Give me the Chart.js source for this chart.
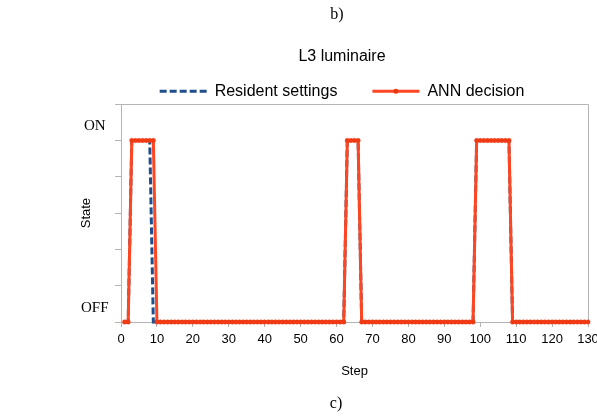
<!DOCTYPE html>
<html><head><meta charset="utf-8">
<script src="https://cdn.jsdelivr.net/npm/chart.js@4/dist/chart.umd.min.js"></script>
<style>
html,body{margin:0;padding:0;background:#fff;}
#wrap{position:relative;width:597px;height:416px;overflow:hidden;}
canvas{position:absolute;left:0;top:0;}
.cap{position:absolute;width:100px;text-align:center;font-family:"Liberation Serif","Times New Roman",serif;font-size:16px;line-height:16px;color:#000;}
</style></head>
<body>
<div id="wrap">
<canvas id="c" width="597" height="416"></canvas>
<div class="cap" style="left:287px;top:6px;">b)</div>
<div class="cap" style="left:286px;top:395px;">c)</div>
</div>
<script>
const chartTitle = 'L3 luminaire';
const seriesNames = ['Resident settings', 'ANN decision'];
const xTitle = 'Step';
const yTitle = 'State';
// state per step (step 1 .. 130): 1 = ON, 0 = OFF
const residentSettings = [
  0,0,1,1,1,1,1,1,0,0,
  0,0,0,0,0,0,0,0,0,0,
  0,0,0,0,0,0,0,0,0,0,
  0,0,0,0,0,0,0,0,0,0,
  0,0,0,0,0,0,0,0,0,0,
  0,0,0,0,0,0,0,0,0,0,
  0,0,1,1,1,1,0,0,0,0,
  0,0,0,0,0,0,0,0,0,0,
  0,0,0,0,0,0,0,0,0,0,
  0,0,0,0,0,0,0,0,1,1,
  1,1,1,1,1,1,1,1,0,0,
  0,0,0,0,0,0,0,0,0,0,
  0,0,0,0,0,0,0,0,0,0
];
const annDecision = [
  0,0,1,1,1,1,1,1,1,0,
  0,0,0,0,0,0,0,0,0,0,
  0,0,0,0,0,0,0,0,0,0,
  0,0,0,0,0,0,0,0,0,0,
  0,0,0,0,0,0,0,0,0,0,
  0,0,0,0,0,0,0,0,0,0,
  0,0,1,1,1,1,0,0,0,0,
  0,0,0,0,0,0,0,0,0,0,
  0,0,0,0,0,0,0,0,0,0,
  0,0,0,0,0,0,0,0,1,1,
  1,1,1,1,1,1,1,1,0,0,
  0,0,0,0,0,0,0,0,0,0,
  0,0,0,0,0,0,0,0,0,0
];
const xTickValues = [0,10,20,30,40,50,60,70,80,90,100,110,120,130];
const yTickValues = [0,0.2,0.4,0.6,0.8,1,1.2];
const yTickLabels = ['OFF','','','','','ON',''];

const steps = annDecision.map((_, i) => i + 1);
const sans = "'Liberation Sans', Arial, sans-serif";
const serif = "'Liberation Serif', 'Times New Roman', serif";
const axisGray = '#B4B4B4';
const redColor = '#FF4622';
const blueColor = '#1F4E8C';

const framePlugin = {
  id: 'frame',
  beforeDatasetsDraw(chart) {
    const {ctx, chartArea: a} = chart;
    ctx.save();
    ctx.strokeStyle = axisGray;
    ctx.lineWidth = 1;
    ctx.beginPath();
    ctx.moveTo(a.left, Math.round(a.top) + 0.5);
    ctx.lineTo(Math.round(a.right) + 0.5, Math.round(a.top) + 0.5);
    ctx.lineTo(Math.round(a.right) + 0.5, a.bottom);
    ctx.stroke();
    ctx.restore();
  }
};
const legendMarkerPlugin = {
  id: 'legendMarker',
  afterDraw(chart) {
    const lg = chart.legend;
    if (!lg || !lg.legendHitBoxes) return;
    const bw = lg.options.labels.pointStyleWidth;
    const fs = lg.options.labels.font.size;
    lg.legendItems.forEach((it, i) => {
      if (it.text !== seriesNames[1]) return;
      const hb = lg.legendHitBoxes[i];
      const ctx = chart.ctx;
      ctx.save();
      ctx.fillStyle = '#E8360F';
      ctx.beginPath();
      ctx.arc(hb.left + bw / 2, hb.top + fs / 2, 2.5, 0, Math.PI * 2);
      ctx.fill();
      ctx.restore();
    });
  }
};

new Chart(document.getElementById('c'), {
  type: 'line',
  data: {
    datasets: [
      {
        label: seriesNames[1],
        data: steps.map((s, i) => ({x: s, y: annDecision[i]})),
        borderColor: redColor,
        backgroundColor: 'rgba(0,0,0,0)',
        borderWidth: 3,
        pointRadius: 2.2,
        pointBackgroundColor: '#F03A14',
        pointBorderColor: '#F03A14',
        pointBorderWidth: 0.5,
        tension: 0,
        clip: false
      },
      {
        label: seriesNames[0],
        data: steps.map((s, i) => ({x: s, y: residentSettings[i]})),
        borderColor: blueColor,
        backgroundColor: 'rgba(0,0,0,0)',
        borderWidth: 3,
        borderDash: [7, 3],
        pointRadius: 0,
        tension: 0,
        clip: false
      }
    ]
  },
  options: {
    responsive: false,
    animation: false,
    devicePixelRatio: 1,
    layout: {padding: {left: 96, right: 9, top: 0, bottom: 0}},
    plugins: {
      title: {
        display: true, text: chartTitle, color: '#000',
        font: {family: sans, size: 16, weight: 'normal'},
        padding: {top: 47, bottom: -18}
      },
      legend: {
        position: 'top', reverse: true, maxHeight: 56,
        labels: {
          color: '#000', font: {family: sans, size: 16},
          usePointStyle: true, pointStyleWidth: 47,
          boxWidth: 47, boxHeight: 16, padding: 35,
          generateLabels(chart) {
            const items = Chart.defaults.plugins.legend.labels.generateLabels(chart);
            items.forEach(it => {
              const ds = chart.data.datasets[it.datasetIndex];
              it.pointStyle = 'line';
              it.fillStyle = 'rgba(0,0,0,0)';
              it.strokeStyle = ds.borderColor;
              it.lineWidth = 3;
              it.lineCap = 'butt';
              it.lineDash = ds.borderDash || [];
              it.lineDashOffset = 0;
            });
            return items;
          }
        }
      },
      tooltip: {enabled: false}
    },
    scales: {
      x: {
        type: 'linear', min: 0, max: 130,
        afterBuildTicks(s) { s.ticks = xTickValues.map(v => ({value: v})); },
        afterFit(s) { s.height = 94; s.paddingRight = 0; s.paddingLeft = 0; },
        grid: {drawOnChartArea: false, drawTicks: true, tickLength: 5, color: axisGray},
        border: {color: axisGray, width: 1},
        ticks: {color: '#000', font: {family: sans, size: 13}, padding: 5, maxRotation: 0, autoSkip: false},
        title: {display: true, text: xTitle, color: '#000', font: {family: sans, size: 13}, padding: {top: 0, bottom: 37}}
      },
      y: {
        type: 'linear', min: 0, max: 1.2,
        afterBuildTicks(s) { s.ticks = yTickValues.map(v => ({value: v})); },
        afterFit(s) { s.width = 25; s.paddingTop = 0; s.paddingBottom = 0; },
        grid: {drawOnChartArea: false, drawTicks: true, tickLength: 6, color: axisGray},
        border: {color: axisGray, width: 1},
        ticks: {
          color: '#000', font: {family: serif, size: 15}, padding: -40, mirror: true,
          crossAlign: 'center', labelOffset: -14, autoSkip: false,
          callback: (v, i) => yTickLabels[i]
        },
        title: {display: true, text: yTitle, color: '#000', font: {family: sans, size: 13}, padding: {top: -17, bottom: 0}}
      }
    }
  },
  plugins: [framePlugin, legendMarkerPlugin]
});
</script>
</body></html>
